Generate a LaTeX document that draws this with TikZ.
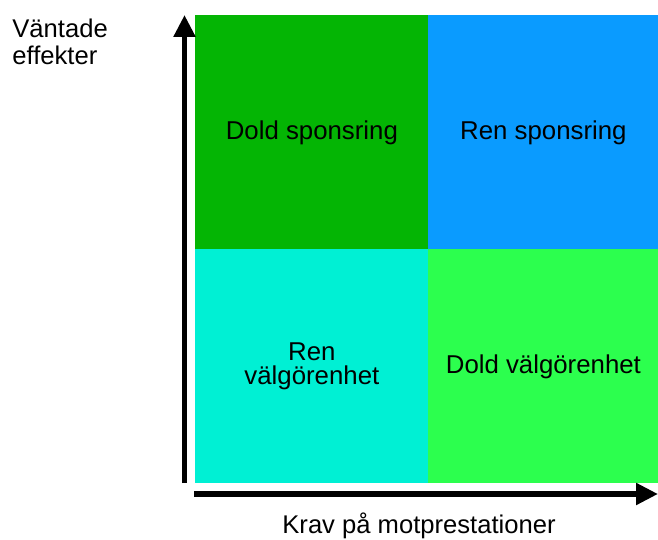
\documentclass[tikz,border=0pt]{standalone}
\usepackage{fontspec}
\setmainfont{Liberation Sans}
\usepackage{xcolor}
\usetikzlibrary{arrows.meta,positioning}

\definecolor{doldgreen}{RGB}{4,181,4}
\definecolor{renblue}{RGB}{10,155,255}
\definecolor{renteal}{RGB}{0,240,212}
\definecolor{lightgreen}{RGB}{44,255,78}

\tikzset{
  quadrant/.style={draw=none, inner sep=0pt, anchor=north west, align=center,
    font=\fontsize{12.9}{11.7}\selectfont},
  axis/.style={line width=2.6pt, -{Triangle[length=11pt,width=10.5pt]}},
  axislabel/.style={inner sep=0pt, font=\fontsize{12.8}{13.3}\selectfont}
}

\begin{document}
\begin{tikzpicture}[x=0.5pt, y=-0.5pt]
  \useasboundingbox (0,0) rectangle (658,540);

  % Quadrants
  \node[quadrant, fill=doldgreen, minimum width=116.5pt, minimum height=117pt]
    (doldspons) at (195,15) {Dold sponsring};
  \node[quadrant, fill=renblue, minimum width=115pt, minimum height=117pt]
    (renspons) at (428,15) {Ren sponsring};
  \node[quadrant, fill=renteal, minimum width=116.5pt, minimum height=117pt]
    (renvalg) at (195,249) {Ren\\välgörenhet};
  \node[quadrant, fill=lightgreen, minimum width=115pt, minimum height=117pt]
    (doldvalg) at (428,249) {Dold välgörenhet};

  % Axes
  \coordinate (yfoot) at (184.5,483);
  \coordinate (ytip) at (184.5,15);
  \coordinate (xfoot) at (194,494);
  \coordinate (xtip) at (658,494);
  \draw[axis] (yfoot) -- (ytip);
  \draw[axis] (xfoot) -- (xtip);

  % Labels
  \node[axislabel, anchor=base west] (ylabel1) at (12,38) {Väntade};
  \node[axislabel, anchor=base west] (ylabel2) at (12,65) {effekter};
  \node[axislabel, anchor=base] (xlabel) at (419,533) {Krav på motprestationer};
\end{tikzpicture}
\end{document}
